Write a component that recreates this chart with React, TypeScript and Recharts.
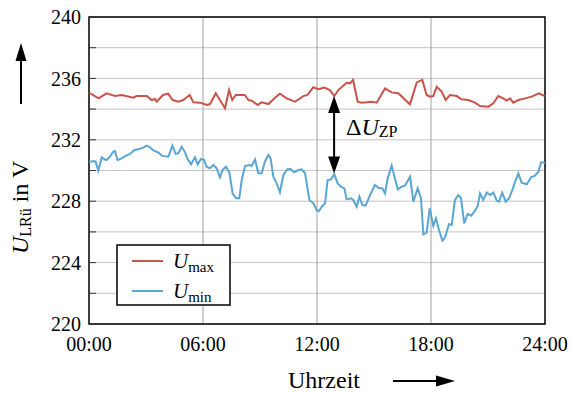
import React from "react";
import {
  LineChart,
  Line,
  XAxis,
  YAxis,
  CartesianGrid,
  ReferenceArea,
  ReferenceLine,
  ReferenceDot,
} from "recharts";

const FONT = "Liberation Serif";
const ROT = "#c9534a";
const BLAU = "#5aa6d3";

// Umax: Uhrzeit in h, Spannung in V
const UMAX_ZEIT = [
  0, 0.5, 0.93, 1.37, 1.72, 2.33, 2.5, 3.04, 3.3, 3.47, 3.56, 3.68, 3.9, 4.17, 4.4, 4.7, 4.96, 5.3, 5.49,
  5.84, 6.2, 6.37, 6.67, 6.89, 7.16, 7.37, 7.54, 7.72, 8.2, 8.39, 8.56, 8.88, 9.09, 9.44, 9.82, 10.05,
  10.4, 10.84, 11.28, 11.5, 11.8, 12.07, 12.39, 12.68, 12.91, 13.12, 13.56, 13.74, 13.9, 14.14, 14.35,
  14.88, 15.14, 15.58, 15.93, 16.28, 16.89, 17.25, 17.54, 17.77, 17.95, 18.12, 18.3, 18.56, 18.77, 19.0,
  19.35, 19.6, 19.96, 20.32, 20.58, 21.02, 21.28, 21.54, 21.8, 21.98, 22.16, 22.33, 22.6, 22.95, 23.3,
  23.68, 24,
];
const UMAX_WERT = [
  235.07, 234.7, 235.03, 234.85, 234.92, 234.74, 234.85, 234.85, 234.59, 234.66, 234.48, 234.64, 234.92,
  235.0, 234.59, 234.48, 234.59, 234.92, 234.44, 234.42, 234.27, 234.33, 235.03, 234.59, 234.05, 235.24,
  234.59, 234.92, 234.92, 234.59, 234.55, 234.27, 234.44, 234.33, 234.77, 235.0, 234.7, 234.48, 234.85,
  234.92, 235.42, 235.29, 235.4, 235.24, 234.85, 235.24, 235.72, 235.68, 235.9, 234.48, 234.42, 234.48,
  234.42, 235.35, 235.09, 235.03, 234.31, 235.74, 235.9, 234.92, 234.81, 234.85, 235.46, 235.14, 234.59,
  234.92, 234.85, 234.64, 234.59, 234.42, 234.2, 234.16, 234.38, 234.85, 234.7, 234.55, 234.7, 234.42,
  234.59, 234.7, 234.81, 235.03, 234.85,
];

// Umin
const UMIN_ZEIT = [
  0, 0.23, 0.35, 0.49, 0.67, 0.81, 0.93, 1.1, 1.28, 1.37, 1.5, 1.72, 1.9, 2.16, 2.39, 2.6, 2.86, 3.04,
  3.21, 3.39, 3.65, 3.86, 4.18, 4.39, 4.56, 4.7, 4.88, 5.05, 5.19, 5.37, 5.58, 5.72, 5.89, 6.05, 6.19,
  6.37, 6.54, 6.72, 6.89, 7.03, 7.21, 7.39, 7.56, 7.74, 7.91, 8.04, 8.21, 8.44, 8.56, 8.74, 8.91, 9.09,
  9.26, 9.44, 9.56, 9.7, 9.88, 10.05, 10.23, 10.44, 10.61, 10.79, 11.02, 11.19, 11.37, 11.6, 11.81, 11.98,
  12.1, 12.25, 12.42, 12.56, 12.74, 12.91, 13.09, 13.26, 13.44, 13.56, 13.79, 13.91, 14.09, 14.23, 14.39,
  14.56, 14.79, 15.05, 15.26, 15.44, 15.58, 15.72, 15.93, 16.25, 16.46, 16.63, 16.9, 17.07, 17.3, 17.47,
  17.6, 17.77, 17.93, 18.12, 18.26, 18.42, 18.6, 18.74, 18.95, 19.09, 19.26, 19.44, 19.58, 19.75, 19.93,
  20.11, 20.28, 20.46, 20.58, 20.75, 20.93, 21.11, 21.28, 21.46, 21.58, 21.75, 21.93, 22.11, 22.28, 22.46,
  22.6, 22.77, 23.04, 23.26, 23.47, 23.65, 23.79, 24,
];
const UMIN_WERT = [
  230.53, 230.62, 230.58, 229.99, 230.86, 230.73, 230.68, 230.9, 231.23, 231.27, 230.68, 230.79, 230.94,
  231.08, 231.34, 231.38, 231.49, 231.62, 231.51, 231.31, 231.16, 230.95, 230.9, 231.62, 231.08, 231.12,
  231.55, 231.2, 230.75, 230.4, 230.86, 230.4, 230.75, 230.7, 230.25, 230.14, 230.36, 230.14, 229.55,
  230.03, 230.25, 229.86, 228.51, 228.19, 228.19, 229.38, 230.29, 230.36, 230.29, 230.73, 229.82, 229.82,
  230.58, 231.01, 230.79, 229.6, 229.16, 228.58, 229.71, 230.08, 230.1, 229.88, 230.03, 230.08, 229.82,
  228.08, 227.86, 227.43, 227.35, 227.64, 227.86, 229.38, 229.42, 229.75, 229.16, 228.95, 228.84, 228.12,
  228.19, 228.08, 227.64, 228.3, 227.75, 227.71, 228.4, 229.06, 228.84, 228.84, 228.51, 229.49, 230.32,
  228.77, 228.95, 229.01, 229.6, 227.97, 228.84, 228.19, 225.84, 225.95, 227.54, 226.4, 226.88, 226.12,
  225.43, 225.65, 226.51, 226.45, 228.08, 228.4, 228.19, 226.56, 227.17, 227.06, 227.32, 227.69, 228.51,
  228.08, 228.56, 228.4, 228.56, 228.04, 227.97, 228.56, 227.97, 228.19, 228.73, 229.38, 229.81, 229.21,
  229.1, 229.55, 229.66, 229.92, 230.53, 230.51,
];

const X_TICKS = [0, 6, 12, 18, 24];
const Y_TICKS = [220, 222, 224, 226, 228, 230, 232, 234, 236, 238, 240];

// Pfeil Delta U_ZP
const DELTA_ZEIT = 12.9;
const DELTA_OBEN = 234.85;
const DELTA_UNTEN = 229.8;
const DELTA_TEXT_ZEIT = 13.53;
const DELTA_TEXT_U = 232.3;

const umax = UMAX_ZEIT.map((t, i) => ({ t, u: UMAX_WERT[i] }));
const umin = UMIN_ZEIT.map((t, i) => ({ t, u: UMIN_WERT[i] }));

const tickStil = { fill: "#000", fontSize: 20, fontFamily: FONT };

const uhr = (h: number) => `${String(h).padStart(2, "0")}:00`;

const PfeilHoch = (p: any) => (
  <polygon points={`${p.cx},${p.cy} ${p.cx - 6},${p.cy + 17} ${p.cx + 6},${p.cy + 17}`} fill="#000" />
);
const PfeilRunter = (p: any) => (
  <polygon points={`${p.cx},${p.cy} ${p.cx - 6},${p.cy - 17} ${p.cx + 6},${p.cy - 17}`} fill="#000" />
);
const DeltaText = (p: any) => (
  <text x={p.cx} y={p.cy} fontFamily={FONT} fontSize={24} fill="#000">
    <tspan>Δ</tspan>
    <tspan fontStyle="italic">U</tspan>
    <tspan fontSize={16} dy={2}>ZP</tspan>
  </text>
);

export default function App() {
  return (
    <div
      style={{
        position: "absolute",
        left: 0,
        top: 0,
        width: 571,
        height: 394,
        overflow: "hidden",
        background: "#fff",
        fontFamily: FONT,
      }}
    >
      <LineChart width={571} height={394} margin={{ top: 17, right: 0, bottom: 0, left: 0 }}>
        <CartesianGrid vertical={false} stroke="#c4c4c4" strokeWidth={1} />
        <CartesianGrid horizontal={false} stroke="#a0a0a0" strokeWidth={1} />
        <XAxis
          type="number"
          dataKey="t"
          domain={[0, 24]}
          ticks={X_TICKS}
          tickFormatter={uhr}
          tick={tickStil}
          tickLine={false}
          axisLine={false}
          tickMargin={7}
          height={70}
          allowDataOverflow
        />
        <YAxis
          type="number"
          domain={[220, 240]}
          ticks={Y_TICKS}
          tickFormatter={(v: number) => (v % 4 === 0 ? String(v) : "")}
          tick={tickStil}
          tickLine={{ stroke: "#333" }}
          tickSize={-7}
          axisLine={false}
          tickMargin={15}
          width={89}
          interval={0}
        />
        <YAxis
          yAxisId="rechts"
          orientation="right"
          type="number"
          domain={[220, 240]}
          ticks={Y_TICKS}
          tickFormatter={() => ""}
          tickLine={{ stroke: "#333" }}
          tickSize={-7}
          axisLine={false}
          width={26}
          interval={0}
        />
        <ReferenceArea x1={0} x2={24} y1={220} y2={240} fill="none" fillOpacity={0} stroke="#000" strokeWidth={1.4} />
        <Line data={umax} dataKey="u" stroke={ROT} strokeWidth={2} dot={false} isAnimationActive={false} />
        <Line data={umin} dataKey="u" stroke={BLAU} strokeWidth={2} dot={false} isAnimationActive={false} />
        <ReferenceLine
          segment={[
            { x: DELTA_ZEIT, y: DELTA_OBEN - 0.3 },
            { x: DELTA_ZEIT, y: DELTA_UNTEN + 0.3 },
          ]}
          stroke="#000"
          strokeWidth={2}
        />
        <ReferenceDot x={DELTA_ZEIT} y={DELTA_OBEN} shape={PfeilHoch} />
        <ReferenceDot x={DELTA_ZEIT} y={DELTA_UNTEN} shape={PfeilRunter} />
        <ReferenceDot x={DELTA_TEXT_ZEIT} y={DELTA_TEXT_U} shape={DeltaText} />
      </LineChart>

      <svg
        width={571}
        height={394}
        style={{ position: "absolute", left: 0, top: 0, pointerEvents: "none" }}
        fontFamily={FONT}
      >
        {/* y-Achsentitel */}
        <text x={28} y={254} fontSize={24} fill="#000" transform="rotate(-90 28 254)">
          <tspan fontStyle="italic">U</tspan>
          <tspan fontSize={16} dy={3}>LRü</tspan>
          <tspan dy={-3}> in V</tspan>
        </text>
        <line x1={21} y1={104} x2={21} y2={58} stroke="#000" strokeWidth={2} />
        <polygon points="21,43 15.5,61 26.5,61" fill="#000" />

        {/* x-Achsentitel */}
        <text x={324} y={388} textAnchor="middle" fontSize={24} fill="#000">
          Uhrzeit
        </text>
        <line x1={393} y1={381} x2={440} y2={381} stroke="#000" strokeWidth={2} />
        <polygon points="455,381 436,375.5 436,386.5" fill="#000" />

        {/* Legende */}
        <rect x={117} y={245} width={113} height={60} fill="#fff" stroke="#000" strokeWidth={1.5} />
        <line x1={132} y1={261} x2={163} y2={261} stroke={ROT} strokeWidth={2} />
        <line x1={132} y1={291} x2={163} y2={291} stroke={BLAU} strokeWidth={2} />
        <text x={173} y={268} fontSize={21} fill="#000">
          <tspan fontStyle="italic">U</tspan>
          <tspan fontSize={15} dy={4}>max</tspan>
        </text>
        <text x={173} y={298} fontSize={21} fill="#000">
          <tspan fontStyle="italic">U</tspan>
          <tspan fontSize={15} dy={4}>min</tspan>
        </text>
      </svg>
    </div>
  );
}
